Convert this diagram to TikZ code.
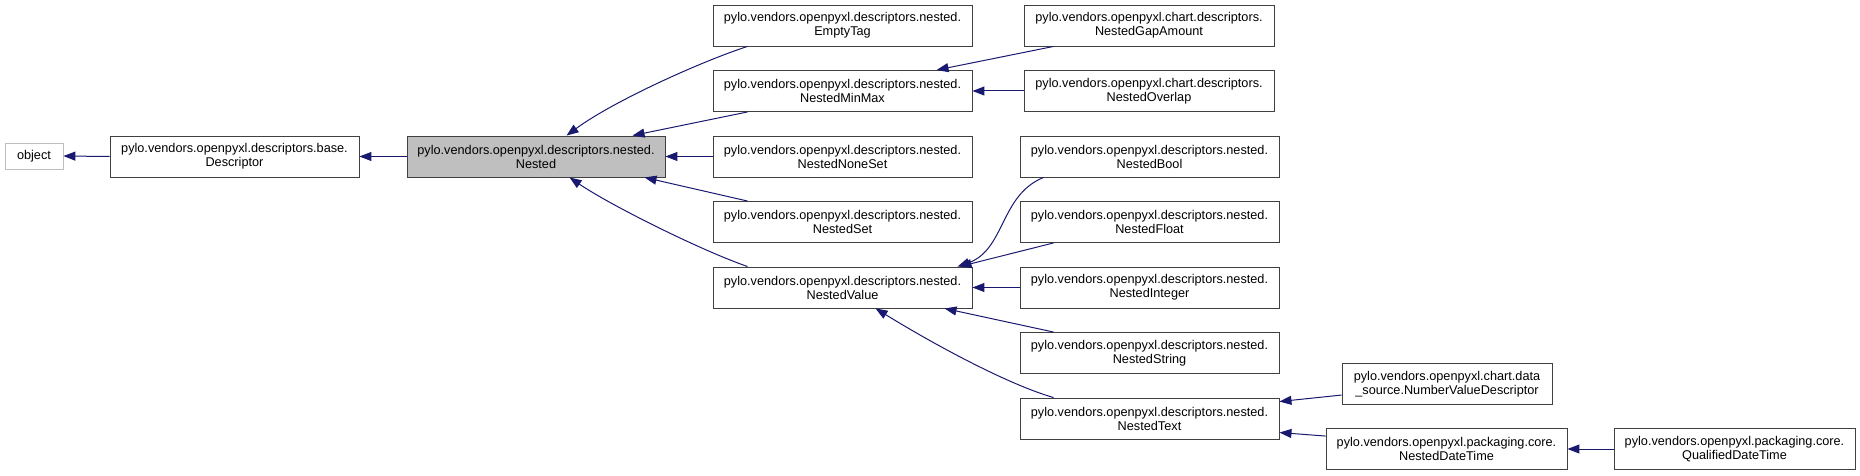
\documentclass[tikz,border=0pt]{standalone}
\usepackage{fontspec}
\setmainfont{Liberation Sans}
\usetikzlibrary{arrows.meta}
\definecolor{edgeblue}{HTML}{191970}
\definecolor{boxgray}{HTML}{BFBFBF}
\definecolor{framegray}{HTML}{404040}

\begin{document}
\begin{tikzpicture}[
  x=1pt, y=-1pt,
  clsbox/.style={draw=framegray, fill=white, line width=0.9pt, minimum height=41pt, inner sep=0pt, align=center, font=\fontsize{12.7}{14}\selectfont},
  rootbox/.style={clsbox, fill=boxgray},
  extbox/.style={clsbox, draw=boxgray, minimum height=26pt},
  inh/.style={draw=edgeblue, line width=1pt, -{Triangle[length=12pt, width=9pt]}}
]
\useasboundingbox (0,0) rectangle (1860,476);

% ---------- Base chain ----------
\node[extbox, minimum width=58pt] (object) at (34,156) {object};
\node[clsbox, minimum width=249pt] (descriptor) at (234.5,156.5) {pylo.vendors.openpyxl.descriptors.base.\\Descriptor};
\node[rootbox, minimum width=258pt] (nested) at (536,156.5) {pylo.vendors.openpyxl.descriptors.nested.\\Nested};

% ---------- Direct subclasses of Nested ----------
\node[clsbox, minimum width=259pt] (emptytag) at (842.5,25.5) {pylo.vendors.openpyxl.descriptors.nested.\\EmptyTag};
\node[clsbox, minimum width=259pt] (minmax) at (842.5,91) {pylo.vendors.openpyxl.descriptors.nested.\\NestedMinMax};
\node[clsbox, minimum width=259pt] (noneset) at (842.5,156.5) {pylo.vendors.openpyxl.descriptors.nested.\\NestedNoneSet};
\node[clsbox, minimum width=259pt] (nestedset) at (842.5,222) {pylo.vendors.openpyxl.descriptors.nested.\\NestedSet};
\node[clsbox, minimum width=259pt] (nestedvalue) at (842.5,287.5) {pylo.vendors.openpyxl.descriptors.nested.\\NestedValue};

% ---------- Third column ----------
\node[clsbox, minimum width=250pt] (gapamount) at (1149,25.5) {pylo.vendors.openpyxl.chart.descriptors.\\NestedGapAmount};
\node[clsbox, minimum width=250pt] (overlap) at (1149,91) {pylo.vendors.openpyxl.chart.descriptors.\\NestedOverlap};
\node[clsbox, minimum width=259pt] (nestedbool) at (1149.5,156.5) {pylo.vendors.openpyxl.descriptors.nested.\\NestedBool};
\node[clsbox, minimum width=259pt] (nestedfloat) at (1149.5,222) {pylo.vendors.openpyxl.descriptors.nested.\\NestedFloat};
\node[clsbox, minimum width=259pt] (nestedinteger) at (1149.5,287.5) {pylo.vendors.openpyxl.descriptors.nested.\\NestedInteger};
\node[clsbox, minimum width=259pt] (nestedstring) at (1149.5,353) {pylo.vendors.openpyxl.descriptors.nested.\\NestedString};
\node[clsbox, minimum width=259pt] (nestedtext) at (1149.5,418.5) {pylo.vendors.openpyxl.descriptors.nested.\\NestedText};

% ---------- Subclasses of NestedText ----------
\node[clsbox, minimum width=210pt] (numbervalue) at (1447,384) {pylo.vendors.openpyxl.chart.data\\\_source.NumberValueDescriptor};
\node[clsbox, minimum width=241pt] (datetime) at (1446.5,449) {pylo.vendors.openpyxl.packaging.core.\\NestedDateTime};
\node[clsbox, minimum width=241pt] (qualified) at (1734.5,449) {pylo.vendors.openpyxl.packaging.core.\\QualifiedDateTime};

% ---------- Inheritance arrows ----------
\draw[inh] (descriptor.west) -- (object.east);
\draw[inh] (nested.west) -- (descriptor.east);

\draw[inh] ([xshift=35pt]emptytag.south west) .. controls (705,60) and (615,100) .. ([xshift=160pt]nested.north west);
\draw[inh] ([xshift=35pt]minmax.south west) -- ([xshift=226pt]nested.north west);
\draw[inh] (noneset.west) -- (nested.east);
\draw[inh] ([xshift=35pt]nestedset.north west) -- ([xshift=238pt]nested.south west);
\draw[inh] ([xshift=35pt]nestedvalue.north west) .. controls (700,250) and (610,205) .. ([xshift=163pt]nested.south west);

\draw[inh] ([xshift=30pt]gapamount.south west) -- ([xshift=224pt]minmax.north west);
\draw[inh] (overlap.west) -- (minmax.east);

\draw[inh] ([xshift=24pt]nestedbool.south west) .. controls (1000,195) and (1005,250) .. ([xshift=245pt]nestedvalue.north west);
\draw[inh] ([xshift=34pt]nestedfloat.south west) -- ([xshift=247pt]nestedvalue.north west);
\draw[inh] (nestedinteger.west) -- (nestedvalue.east);
\draw[inh] ([xshift=34pt]nestedstring.north west) -- ([xshift=232pt]nestedvalue.south west);
\draw[inh] ([xshift=34pt]nestedtext.north west) .. controls (1010,385) and (940,348) .. ([xshift=163pt]nestedvalue.south west);

\draw[inh] ([yshift=-32pt]numbervalue.north west) -- ([yshift=-4pt]nestedtext.north east);
\draw[inh] ([yshift=-8pt]datetime.north west) -- ([yshift=-35pt]nestedtext.north east);
\draw[inh] (qualified.west) -- (datetime.east);

\end{tikzpicture}
\end{document}
